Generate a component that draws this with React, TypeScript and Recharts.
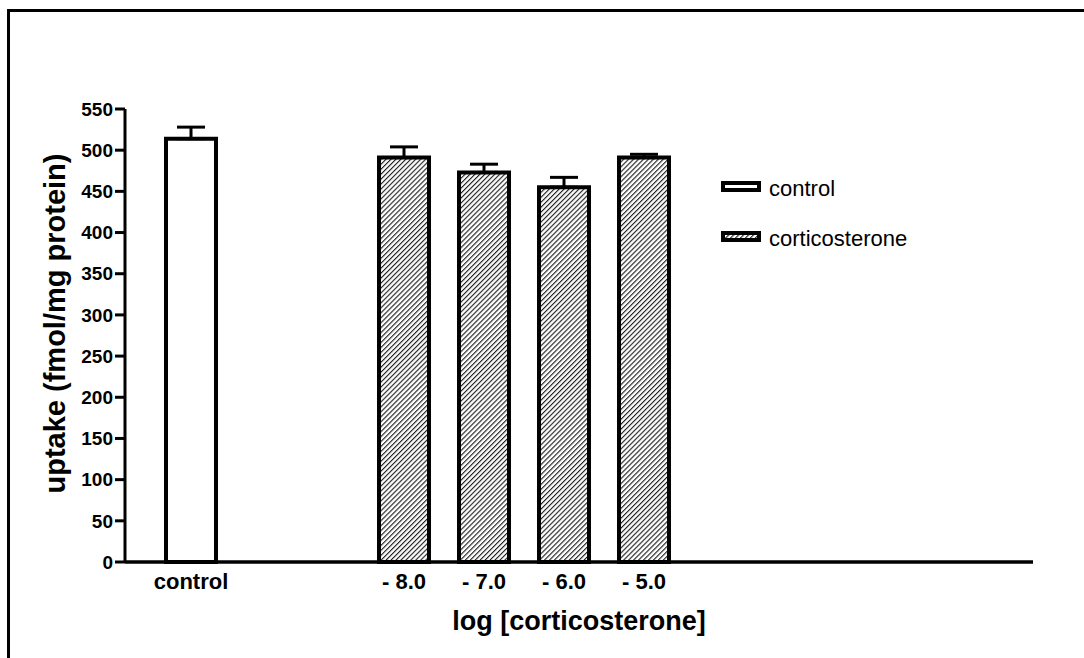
import { ComposedChart, Bar, Cell, ErrorBar, XAxis, YAxis, Legend, Label } from "recharts";

const GROUPS = ["control", "- 8.0", "- 7.0", "- 6.0", "- 5.0"];
const UPTAKE = [514, 491, 473, 455, 491];
const SEM = [14, 13, 10, 12, 4];
const Y_TICKS = [0, 50, 100, 150, 200, 250, 300, 350, 400, 450, 500, 550];
const LEGEND_ITEMS = ["control", "corticosterone"];

// control bar stands apart from the dose bars on the x axis
const DOSE_GAP = 2.6625;
const X_DOMAIN: [number, number] = [-0.825, 10.525];

const data = GROUPS.map((g, i) => ({
  x: i === 0 ? 0 : DOSE_GAP + i - 1,
  label: g,
  uptake: UPTAKE[i],
  err: [0, SEM[i]],
}));

const FONT = "'Liberation Sans', Arial, sans-serif";

function renderLegend() {
  return (
    <svg width={240} height={90} style={{ overflow: "visible" }}>
      {LEGEND_ITEMS.map((name, i) => (
        <g key={name} transform={`translate(0, ${i * 50})`}>
          <rect
            x={4}
            y={4}
            width={36}
            height={7}
            fill={i === 0 ? "#fff" : "url(#hatch)"}
            stroke="#000"
            strokeWidth={4}
          />
          <text x={50} y={17} fontSize={22} fontFamily={FONT} fill="#000">
            {name}
          </text>
        </g>
      ))}
    </svg>
  );
}

export default function App() {
  return (
    <div style={{ position: "absolute", left: 0, top: 0, width: 1084, height: 658, background: "#fff" }}>
      <div
        style={{
          position: "absolute",
          left: 7,
          top: 9,
          width: 1077,
          height: 649,
          borderLeft: "3px solid #000",
          borderTop: "3px solid #000",
          boxSizing: "border-box",
        }}
      />
      <ComposedChart
        width={1084}
        height={658}
        data={data}
        margin={{ top: 109, right: 51, bottom: 0, left: 0 }}
        style={{ position: "absolute", left: 0, top: 0, fontFamily: FONT }}
      >
        <defs>
          <pattern id="hatch" width={3.5} height={10} patternUnits="userSpaceOnUse" patternTransform="rotate(45)">
            <rect width={3.5} height={10} fill="#fff" />
            <line x1={0.6} y1={0} x2={0.6} y2={10} stroke="#000" strokeWidth={1} />
          </pattern>
        </defs>
        <XAxis
          type="number"
          dataKey="x"
          domain={X_DOMAIN}
          ticks={data.map((d) => d.x)}
          tickFormatter={(v: number) => data.find((d) => d.x === v)?.label ?? ""}
          interval={0}
          height={96}
          tickLine={false}
          tickSize={0}
          tickMargin={11}
          axisLine={{ stroke: "#000", strokeWidth: 3.5 }}
          tick={{ fill: "#000", fontSize: 22, fontWeight: 700 }}
          allowDataOverflow
        >
          <Label
            value="log [corticosterone]"
            position="insideTop"
            offset={49}
            fill="#000"
            fontSize={27}
            fontWeight={700}
          />
        </XAxis>
        <YAxis
          domain={[0, 550]}
          ticks={Y_TICKS}
          interval={0}
          width={125}
          tickSize={10}
          tickMargin={2}
          axisLine={{ stroke: "#000", strokeWidth: 3 }}
          tickLine={{ stroke: "#000", strokeWidth: 3 }}
          tick={{ fill: "#000", fontSize: 19, fontWeight: 700 }}
        >
          <Label
            value="uptake (fmol/mg protein)"
            angle={-90}
            position="insideLeft"
            offset={55}
            dy={-12}
            textAnchor="middle"
            fill="#000"
            fontSize={29}
            fontWeight={700}
          />
        </YAxis>
        <Legend
          content={renderLegend}
          layout="horizontal"
          verticalAlign="middle"
          align="center"
          wrapperStyle={{ left: 719, top: 179, width: 240, height: 90 }}
        />
        <Bar dataKey="uptake" barSize={50} stroke="#000" strokeWidth={4} isAnimationActive={false}>
          {data.map((d, i) => (
            <Cell key={d.label} fill={i === 0 ? "#fff" : "url(#hatch)"} />
          ))}
          <ErrorBar dataKey="err" width={14} stroke="#000" strokeWidth={3} direction="y" />
        </Bar>
      </ComposedChart>
    </div>
  );
}
